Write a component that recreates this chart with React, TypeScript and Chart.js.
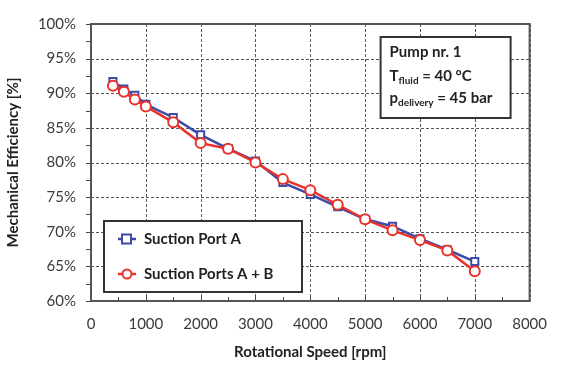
import React, { useEffect, useRef } from "react";
import { Chart, registerables } from "chart.js";

Chart.register(...registerables);

const speeds = [400, 600, 800, 1000, 1500, 2000, 2500, 3000, 3500, 4000, 4500, 5000, 5500, 6000, 6500, 7000];
const portA = [91.7, 90.6, 89.7, 88.4, 86.5, 84.0, 82.0, 80.2, 77.1, 75.4, 73.6, 71.8, 70.8, 69.0, 67.4, 65.7];
const portsAB = [91.1, 90.2, 89.1, 88.1, 85.8, 82.8, 82.0, 80.0, 77.6, 76.0, 73.9, 71.8, 70.2, 68.8, 67.3, 64.3];
const seriesNames = ["Suction Port A", "Suction Ports A + B"];
const boxLines = ["Pump nr. 1", "40 °C", "45 bar"];
const xTitle = "Rotational Speed [rpm]";
const yTitle = "Mechanical Efficiency [%]";

const BLUE = "#3c4aa8";
const RED = "#e8322a";
const FONT = "Lato, 'Open Sans', sans-serif";
const TXT = "#3a3a3a";

const deco = {
  id: "deco",
  beforeDatasetsDraw(chart: any) {
    const { ctx, chartArea: a, scales } = chart;
    const x = scales.x, y = scales.y;
    ctx.save();
    // dashed grid
    ctx.strokeStyle = "#555";
    ctx.lineWidth = 1;
    ctx.setLineDash([3, 2]);
    x.ticks.forEach((t: any) => {
      const px = Math.round(x.getPixelForValue(t.value)) + 0.5;
      ctx.beginPath();
      ctx.moveTo(px, a.top);
      ctx.lineTo(px, a.bottom);
      ctx.stroke();
    });
    y.ticks.forEach((t: any) => {
      const py = Math.round(y.getPixelForValue(t.value)) + 0.5;
      ctx.beginPath();
      ctx.moveTo(a.left, py);
      ctx.lineTo(a.right, py);
      ctx.stroke();
    });
    ctx.setLineDash([]);
    ctx.strokeStyle = "#444";
    // minor ticks x (inside) every 500
    for (let v = 500; v < 8000; v += 500) {
      const px = Math.round(x.getPixelForValue(v)) + 0.5;
      ctx.beginPath();
      ctx.moveTo(px, a.bottom);
      ctx.lineTo(px, a.bottom - 4);
      ctx.stroke();
    }
    // y ticks outside every 2.5
    for (let v = 60; v <= 100; v += 2.5) {
      const py = Math.round(y.getPixelForValue(v)) + 0.5;
      ctx.beginPath();
      ctx.moveTo(a.left, py);
      ctx.lineTo(a.left - 5, py);
      ctx.stroke();
    }
    ctx.strokeStyle = "#555";
    ctx.lineWidth = 2;
    ctx.strokeRect(a.left, a.top, a.right - a.left, a.bottom - a.top);
    ctx.restore();
  },
  afterDraw(chart: any) {
    const { ctx, chartArea: a } = chart;
    ctx.save();
    // legend box
    const lx = a.left + 13, ly = a.top + 197, lw = 198, lh = 71;
    ctx.fillStyle = "#fff";
    ctx.fillRect(lx, ly, lw, lh);
    ctx.strokeStyle = "#333";
    ctx.lineWidth = 2;
    ctx.strokeRect(lx, ly, lw, lh);
    const items = chart.data.datasets;
    const rows = [ly + 18, ly + 53];
    items.forEach((ds: any, i: number) => {
      const yy = rows[i];
      ctx.strokeStyle = ds.borderColor;
      ctx.lineWidth = 2.5;
      ctx.beginPath();
      ctx.moveTo(lx + 14, yy);
      ctx.lineTo(lx + 32, yy);
      ctx.stroke();
      ctx.fillStyle = "#fff";
      ctx.lineWidth = 2;
      if (ds.pointStyle === "rect") {
        ctx.fillRect(lx + 18, yy - 4.5, 9, 9);
        ctx.strokeRect(lx + 18, yy - 4.5, 9, 9);
      } else {
        ctx.beginPath();
        ctx.arc(lx + 23, yy, 4.5, 0, Math.PI * 2);
        ctx.fill();
        ctx.stroke();
      }
      ctx.fillStyle = "#222";
      ctx.font = `bold 15px ${FONT}`;
      ctx.textBaseline = "middle";
      ctx.textAlign = "left";
      ctx.fillText(ds.label, lx + 40, yy);
    });
    // annotation box
    const bx = a.right - 149, by = a.top + 13, bw = 130, bh = 81;
    ctx.fillStyle = "#fff";
    ctx.fillRect(bx, by, bw, bh);
    ctx.strokeStyle = "#333";
    ctx.lineWidth = 2;
    ctx.strokeRect(bx, by, bw, bh);
    ctx.fillStyle = "#222";
    ctx.textBaseline = "alphabetic";
    ctx.textAlign = "left";
    const tx = bx + 9;
    ctx.font = `bold 15px ${FONT}`;
    ctx.fillText(boxLines[0], tx, by + 20);
    let cx = tx;
    const b2 = by + 44;
    ctx.fillText("T", cx, b2);
    cx += ctx.measureText("T").width;
    ctx.font = `bold 10px ${FONT}`;
    ctx.fillText("fluid", cx, b2 + 3);
    cx += ctx.measureText("fluid").width;
    ctx.font = `bold 15px ${FONT}`;
    ctx.fillText(" = " + boxLines[1], cx, b2);
    cx = tx;
    const b3 = by + 66;
    ctx.fillText("p", cx, b3);
    cx += ctx.measureText("p").width;
    ctx.font = `bold 10px ${FONT}`;
    ctx.fillText("delivery", cx, b3 + 3);
    cx += ctx.measureText("delivery").width;
    ctx.font = `bold 15px ${FONT}`;
    ctx.fillText(" = " + boxLines[2], cx, b3);
    ctx.restore();
  },
};

export default function App() {
  const ref = useRef<HTMLCanvasElement>(null);
  useEffect(() => {
    document.body.style.margin = "0";
    const chart = new Chart(ref.current!, {
      type: "line",
      data: {
        datasets: [
          {
            label: seriesNames[0],
            data: speeds.map((s, i) => ({ x: s, y: portA[i] })),
            borderColor: BLUE,
            backgroundColor: "#fff",
            pointStyle: "rect",
            pointRadius: 5,
            pointBorderWidth: 2,
            borderWidth: 2.5,
            order: 2,
          },
          {
            label: seriesNames[1],
            data: speeds.map((s, i) => ({ x: s, y: portsAB[i] })),
            borderColor: RED,
            backgroundColor: "#fff",
            pointStyle: "circle",
            pointRadius: 5,
            pointBorderWidth: 2,
            borderWidth: 2.5,
            order: 1,
          },
        ],
      },
      options: {
        animation: false,
        responsive: false,
        devicePixelRatio: 1,
        layout: { padding: { left: 0, right: 24, top: 16, bottom: 0 } },
        plugins: { legend: { display: false }, tooltip: { enabled: false } },
        scales: {
          x: {
            type: "linear",
            min: 0,
            max: 8000,
            ticks: { stepSize: 1000, color: TXT, font: { family: FONT, size: 15 }, padding: 14, maxRotation: 0, callback: (v: any) => String(v) },
            grid: { display: false, drawTicks: false },
            border: { display: false },
            title: { display: true, text: xTitle, color: "#222", font: { family: FONT, size: 15, weight: "bold" }, padding: { top: 0, bottom: 4 } },
            afterFit: (s: any) => { s.height = 64; },
          },
          y: {
            min: 60,
            max: 100,
            ticks: { stepSize: 5, color: TXT, font: { family: FONT, size: 15 }, padding: 15, callback: (v: any) => v + "%" },
            grid: { display: false, drawTicks: false },
            border: { display: false },
            title: { display: true, text: yTitle, color: "#222", font: { family: FONT, size: 15, weight: "bold" }, padding: { top: 4, bottom: 0 } },
            afterFit: (s: any) => { s.width = 91; },
          },
        },
      },
      plugins: [deco],
    } as any);
    return () => chart.destroy();
  }, []);
  return (
    <div style={{ position: "absolute", left: 0, top: 0, width: 561, height: 365, background: "#fff" }}>
      <canvas ref={ref} width={561} height={365} />
    </div>
  );
}
